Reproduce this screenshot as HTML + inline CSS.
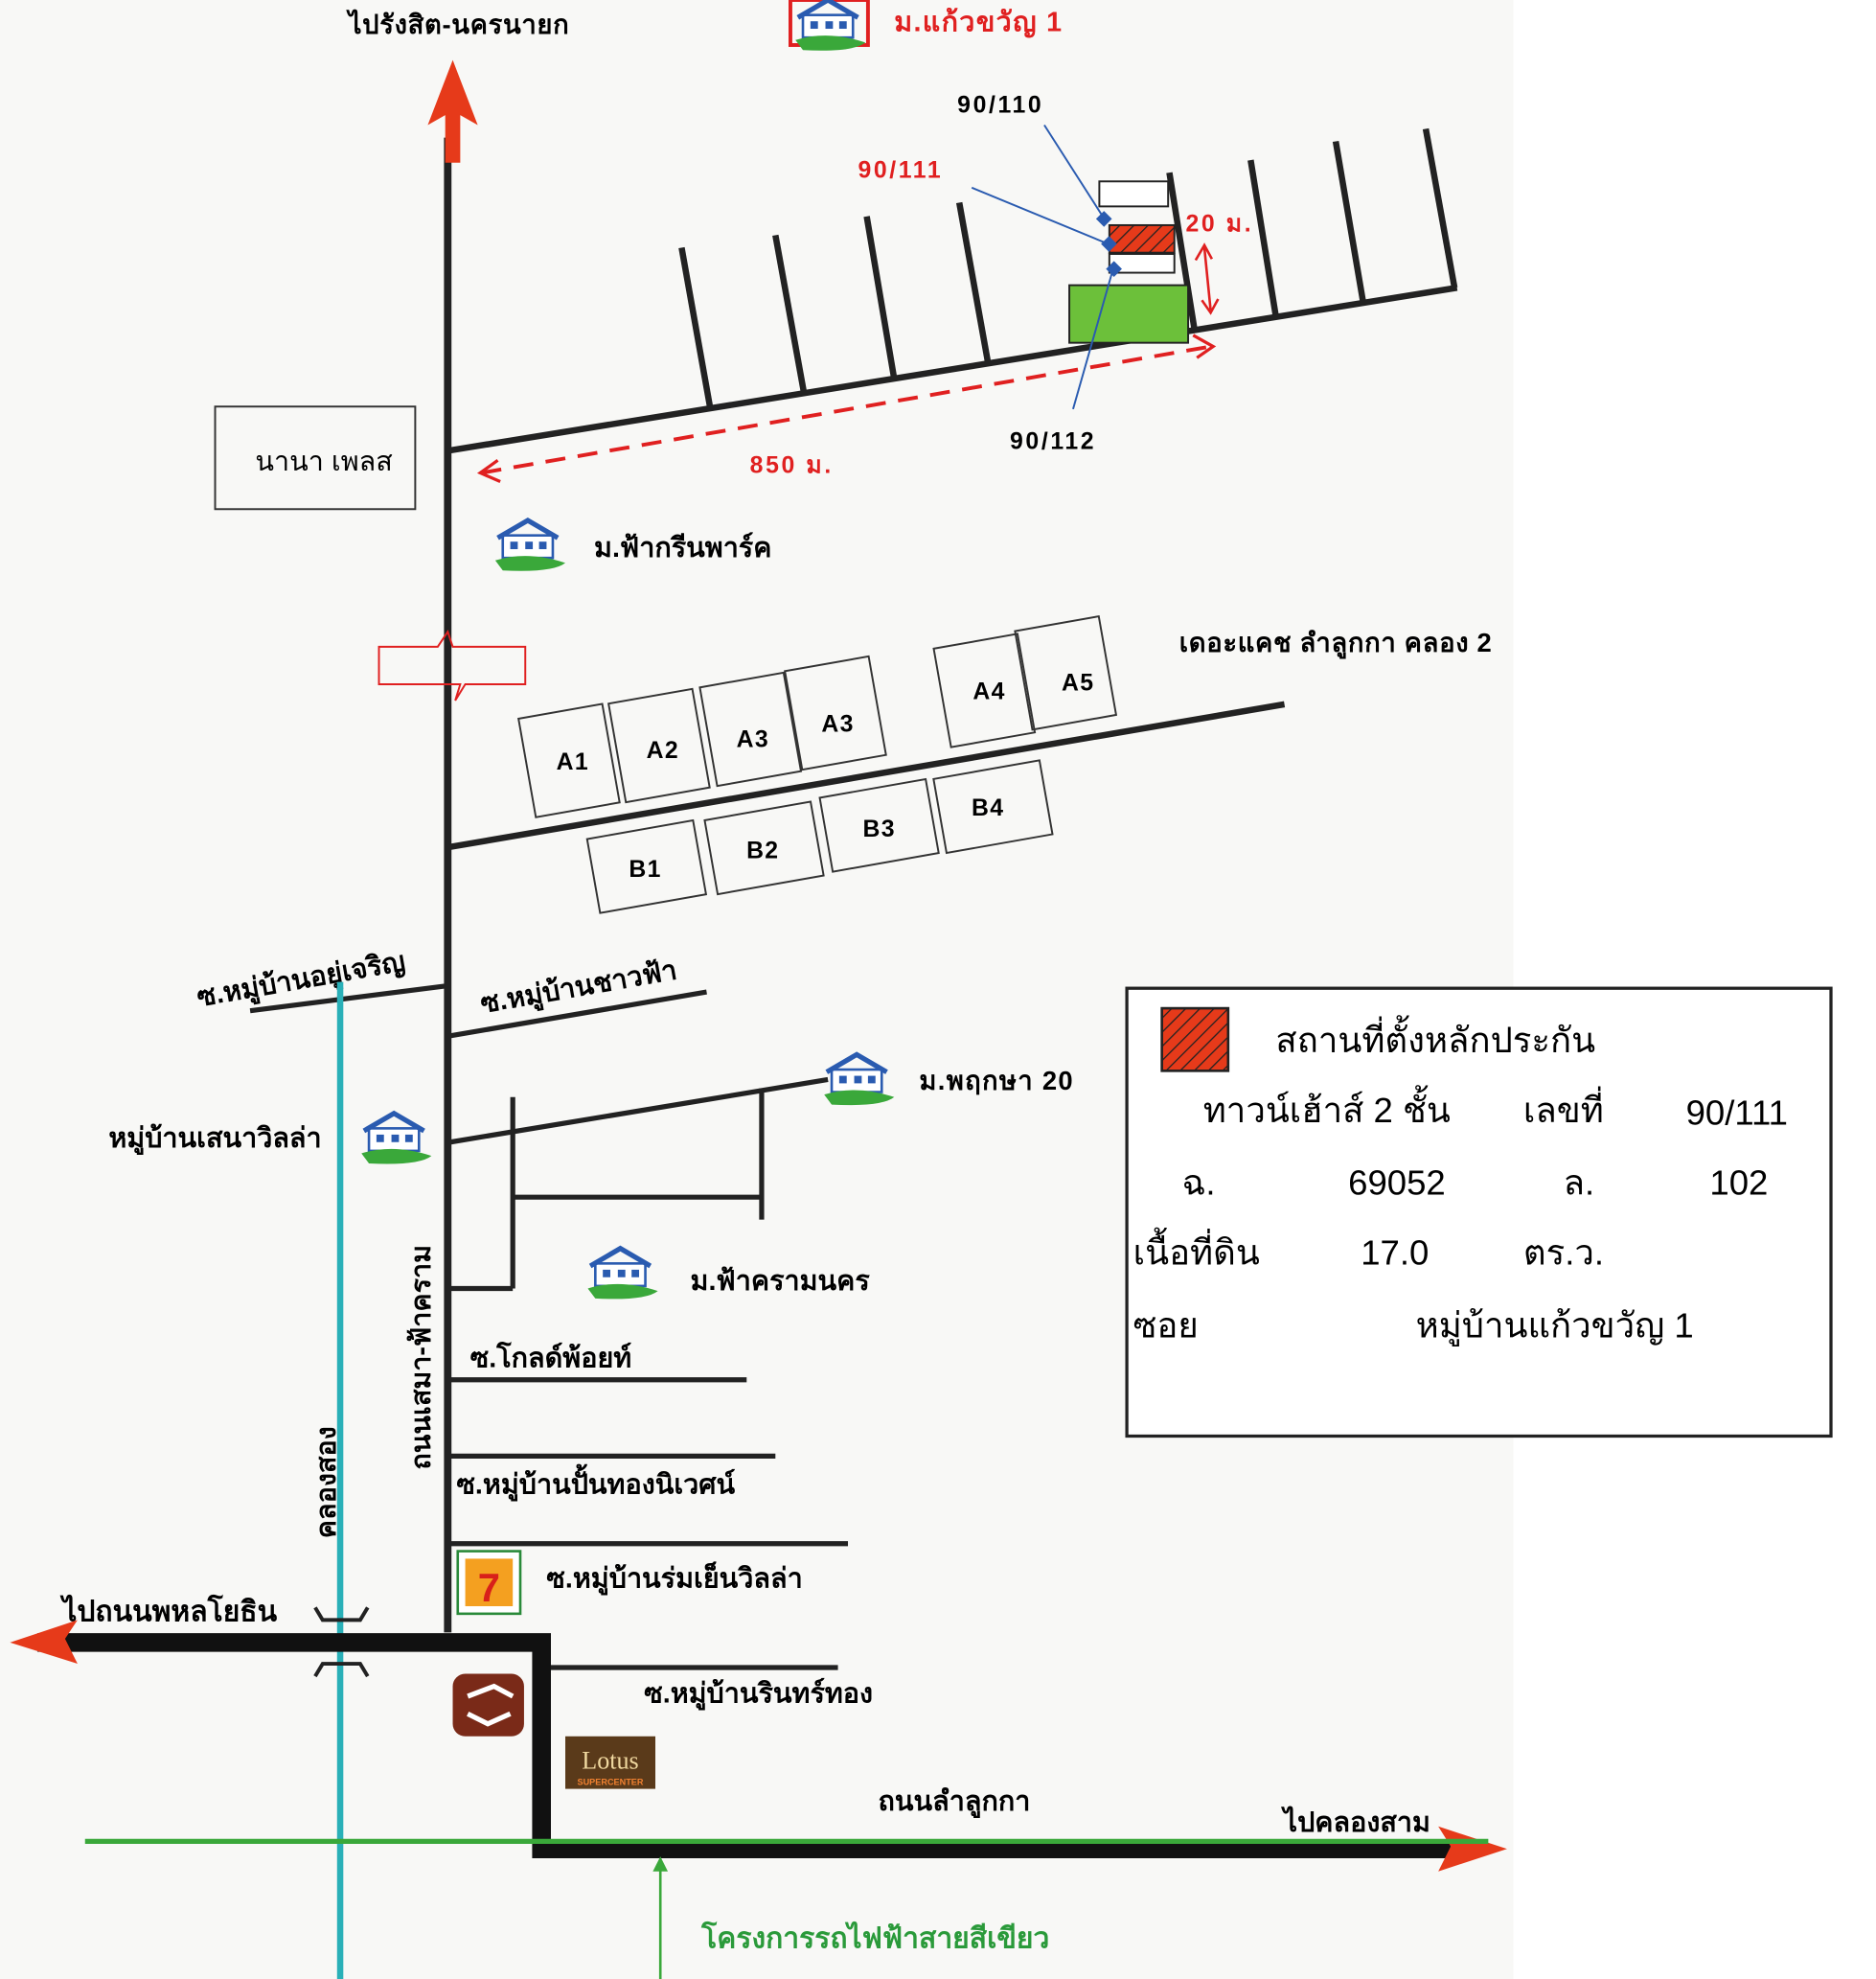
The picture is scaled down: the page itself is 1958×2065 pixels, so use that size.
<!DOCTYPE html>
<html><head><meta charset="utf-8"><style>
html,body{margin:0;padding:0;background:#fff;}
svg{display:block;}
text{font-family:"Liberation Sans","Noto Sans CJK SC","WenQuanYi Zen Hei",sans-serif;font-weight:bold;}
.n{font-weight:normal;}
</style></head><body>
<svg width="1958" height="2065" viewBox="0 0 1500 1582" preserveAspectRatio="none" xmlns="http://www.w3.org/2000/svg">
<defs>
<pattern id="h" width="8" height="8" patternUnits="userSpaceOnUse" patternTransform="rotate(45)"><rect width="8" height="8" fill="#e63a1a"/><line x1="0" y1="0" x2="0" y2="8" stroke="#222" stroke-width="2"/></pattern>
<g id="house"><rect x="0" y="10" width="40" height="18" fill="#fff" stroke="#2a5bb0" stroke-width="2"/><path d="M-4 12 L20 -2 L44 12" fill="none" stroke="#2a5bb0" stroke-width="4"/><rect x="6" y="15" width="6" height="6" fill="#2a5bb0"/><rect x="18" y="15" width="6" height="6" fill="#2a5bb0"/><rect x="29" y="15" width="6" height="6" fill="#2a5bb0"/><path d="M-6 30 Q20 22 50 32 Q40 40 0 38 Z" fill="#3aa83a"/></g>
</defs>
<rect x="0" y="0" width="1210" height="1582" fill="#f8f8f6"/>
<line x1="358" y1="110" x2="358" y2="1305" stroke="#222" stroke-width="6"/>
<path d="M362 48 L342 100 L356 92 L356 130 L368 130 L368 92 L382 100 Z" fill="#e63a1a"/>
<text x="367" y="27" font-size="21" text-anchor="middle" letter-spacing="0.5">ไปรังสิต-นครนายก</text>
<rect x="632" y="0" width="62" height="36" fill="none" stroke="#e02020" stroke-width="3"/>
<use href="#house" x="642" y="2"/>
<text x="715" y="25" font-size="22" fill="#e02020" letter-spacing="1">ม.แก้วขวัญ 1</text>
<line x1="360" y1="360" x2="1165" y2="230" stroke="#222" stroke-width="5"/>
<g stroke="#222" stroke-width="5">
<line x1="545" y1="198" x2="568" y2="327"/><line x1="620" y1="188" x2="643" y2="315"/><line x1="693" y1="173" x2="715" y2="303"/><line x1="767" y1="162" x2="790" y2="290"/><line x1="935" y1="138" x2="955" y2="263"/><line x1="1000" y1="128" x2="1020" y2="252"/><line x1="1068" y1="113" x2="1090" y2="242"/><line x1="1140" y1="103" x2="1163" y2="230"/>
</g>
<rect x="879" y="145" width="55" height="20" fill="#fff" stroke="#222" stroke-width="1.5"/>
<rect x="887" y="180" width="52" height="22" fill="url(#h)" stroke="#222" stroke-width="1.5"/>
<rect x="887" y="203" width="52" height="15" fill="#fff" stroke="#222" stroke-width="1.5"/>
<rect x="855" y="228" width="95" height="46" fill="#6cc03a" stroke="#222" stroke-width="1.5"/>
<g stroke="#2a5bb0" stroke-width="1.5"><line x1="835" y1="100" x2="883" y2="175"/><line x1="777" y1="150" x2="886" y2="195"/><line x1="858" y1="327" x2="890" y2="215"/></g>
<g fill="#2a5bb0"><rect x="878" y="170" width="9" height="9" transform="rotate(45 882 175)"/><rect x="882" y="190" width="9" height="9" transform="rotate(45 886 195)"/><rect x="886" y="210" width="9" height="9" transform="rotate(45 890 215)"/></g>
<g font-size="19" letter-spacing="2">
<text x="800" y="90" text-anchor="middle">90/110</text>
<text x="720" y="142" text-anchor="middle" fill="#e02020">90/111</text>
<text x="842" y="359" text-anchor="middle">90/112</text>
<text x="948" y="185" fill="#e02020">20 ม.</text>
<text x="633" y="378" text-anchor="middle" fill="#e02020">850 ม.</text>
</g>
<g stroke="#e02020" stroke-width="2" fill="none"><line x1="963" y1="198" x2="968" y2="248"/><path d="M956 208 L963 196 L969 207"/><path d="M961 240 L968 250 L974 239"/></g>
<line x1="385" y1="378" x2="968" y2="277" stroke="#e02020" stroke-width="3" stroke-dasharray="16,10"/>
<path d="M398 368 L384 378 L400 385" fill="none" stroke="#e02020" stroke-width="2.5"/>
<path d="M954 268 L970 277 L957 286" fill="none" stroke="#e02020" stroke-width="2.5"/>
<rect x="172" y="325" width="160" height="82" fill="none" stroke="#333" stroke-width="1.5"/>
<text x="259" y="376" font-size="22" text-anchor="middle" class="n">นานา เพลส</text>
<use href="#house" x="402" y="418"/>
<text x="475" y="445" font-size="22">ม.ฟ้ากรีนพาร์ค</text>
<path d="M303 517 L350 517 L358 505 L362 517 L420 517 L420 547 L372 547 L364 560 L368 547 L303 547 Z" fill="none" stroke="#e02020" stroke-width="1.5"/>
<line x1="360" y1="677" x2="1027" y2="563" stroke="#222" stroke-width="5"/>
<text x="1068" y="521" font-size="21" text-anchor="middle" letter-spacing="0.5">เดอะแคช ลำลูกกา คลอง 2</text>
<g fill="none" stroke="#333" stroke-width="1.5">
<g transform="rotate(-10 455 608)"><rect x="421" y="568" width="68" height="80"/></g>
<g transform="rotate(-10 527 596)"><rect x="493" y="556" width="68" height="80"/></g>
<g transform="rotate(-10 600 583)"><rect x="566" y="543" width="68" height="80"/></g>
<g transform="rotate(-10 668 570)"><rect x="634" y="530" width="68" height="80"/></g>
<g transform="rotate(-10 787 552)"><rect x="753" y="512" width="68" height="80"/></g>
<g transform="rotate(-10 852 538)"><rect x="818" y="498" width="68" height="80"/></g>
<g transform="rotate(-10 516 693)"><rect x="474" y="663" width="86" height="60"/></g>
<g transform="rotate(-10 610 678)"><rect x="568" y="648" width="86" height="60"/></g>
<g transform="rotate(-10 702 660)"><rect x="660" y="630" width="86" height="60"/></g>
<g transform="rotate(-10 793 645)"><rect x="751" y="615" width="86" height="60"/></g>
</g>
<g font-size="19" text-anchor="middle" letter-spacing="1">
<text x="458" y="615">A1</text><text x="530" y="606">A2</text><text x="602" y="597">A3</text><text x="670" y="585">A3</text><text x="791" y="559">A4</text><text x="862" y="552">A5</text>
<text x="516" y="701">B1</text><text x="610" y="686">B2</text><text x="703" y="669">B3</text><text x="790" y="652">B4</text>
</g>
<line x1="200" y1="808" x2="358" y2="788" stroke="#222" stroke-width="4"/>
<text x="242" y="790" font-size="22" text-anchor="middle" transform="rotate(-10 242 790)">ซ.หมู่บ้านอยู่เจริญ</text>
<line x1="360" y1="828" x2="565" y2="793" stroke="#222" stroke-width="4"/>
<text x="464" y="796" font-size="22" text-anchor="middle" transform="rotate(-10 464 796)">ซ.หมู่บ้านชาวฟ้า</text>
<line x1="360" y1="913" x2="662" y2="863" stroke="#222" stroke-width="4"/>
<g stroke="#222" stroke-width="4"><line x1="410" y1="877" x2="410" y2="1030"/><line x1="609" y1="870" x2="609" y2="975"/><line x1="410" y1="957" x2="609" y2="957"/><line x1="360" y1="1030" x2="410" y2="1030"/></g>
<use href="#house" x="665" y="845"/>
<text x="735" y="871" font-size="21" letter-spacing="1">ม.พฤกษา 20</text>
<use href="#house" x="295" y="892"/>
<text x="172" y="917" font-size="22" text-anchor="middle">หมู่บ้านเสนาวิลล่า</text>
<use href="#house" x="476" y="1000"/>
<text x="552" y="1031" font-size="22">ม.ฟ้าครามนคร</text>
<line x1="272" y1="785" x2="272" y2="1582" stroke="#2ab0b8" stroke-width="5"/>
<text x="268" y="1185" font-size="22" text-anchor="middle" transform="rotate(-90 268 1185)">คลองสอง</text>
<text x="344" y="1085" font-size="22" text-anchor="middle" transform="rotate(-90 344 1085)">ถนนเสมา-ฟ้าคราม</text>
<g stroke="#222" stroke-width="4"><line x1="360" y1="1103" x2="597" y2="1103"/><line x1="360" y1="1164" x2="620" y2="1164"/><line x1="360" y1="1234" x2="678" y2="1234"/><line x1="440" y1="1333" x2="670" y2="1333"/></g>
<text x="376" y="1093" font-size="22">ซ.โกลด์พ้อยท์</text>
<text x="365" y="1194" font-size="22">ซ.หมู่บ้านปั้นทองนิเวศน์</text>
<text x="437" y="1269" font-size="22">ซ.หมู่บ้านร่มเย็นวิลล่า</text>
<text x="515" y="1361" font-size="22">ซ.หมู่บ้านรินทร์ทอง</text>
<rect x="366" y="1240" width="50" height="50" fill="#fff" stroke="#2a8a3a" stroke-width="2"/>
<rect x="372" y="1246" width="38" height="38" fill="#f4a020"/>
<text x="391" y="1280" font-size="32" fill="#d8201a" text-anchor="middle">7</text>
<rect x="362" y="1338" width="57" height="50" rx="10" fill="#7a2a18"/>
<path d="M374 1356 L395 1348 L410 1356 M374 1370 L390 1378 L408 1370" fill="none" stroke="#fff" stroke-width="4"/>
<rect x="452" y="1388" width="72" height="42" fill="#5a3a1a"/>
<text x="488" y="1414" font-size="20" fill="#f0d8a0" text-anchor="middle" class="n" style="font-family:'Liberation Serif',serif">Lotus</text>
<text x="488" y="1427" font-size="7" fill="#f08030" text-anchor="middle">SUPERCENTER</text>
<text x="50" y="1296" font-size="23">ไปถนนพหลโยธิน</text>
<path d="M30 1313 L433 1313 L433 1478 L1160 1478" fill="none" stroke="#111" stroke-width="15"/>
<path d="M8 1313 L62 1295 L52 1310 L62 1330 Z" fill="#e63a1a"/>
<path d="M1205 1478 L1150 1460 L1160 1476 L1150 1496 Z" fill="#e63a1a"/>
<g stroke="#222" stroke-width="3" fill="none"><path d="M252 1285 L258 1295 L288 1295 L294 1285"/><path d="M252 1340 L258 1330 L288 1330 L294 1340"/></g>
<line x1="68" y1="1472" x2="1190" y2="1472" stroke="#3aa83a" stroke-width="4"/>
<line x1="528" y1="1582" x2="528" y2="1488" stroke="#3aa83a" stroke-width="2"/>
<path d="M522 1496 L528 1484 L534 1496 Z" fill="#3aa83a"/>
<text x="763" y="1447" font-size="22" text-anchor="middle">ถนนลำลูกกา</text>
<text x="1085" y="1464" font-size="22" text-anchor="middle">ไปคลองสาม</text>
<text x="700" y="1557" font-size="23" fill="#2a9a3a" text-anchor="middle">โครงการรถไฟฟ้าสายสีเขียว</text>
<rect x="901" y="790" width="563" height="358" fill="#fff" stroke="#222" stroke-width="2.5"/>
<rect x="929" y="806" width="53" height="50" fill="url(#h)" stroke="#222" stroke-width="2"/>
<g font-size="28">
<text x="1020" y="841" class="n">สถานที่ตั้งหลักประกัน</text>
<text x="962" y="897" class="n">ทาวน์เฮ้าส์ 2 ชั้น</text>
<text x="1218" y="897" class="n">เลขที่</text>
<text x="1348" y="899" class="n">90/111</text>
<text x="945" y="955" class="n">ฉ.</text>
<text x="1078" y="955" class="n">69052</text>
<text x="1250" y="955" class="n">ล.</text>
<text x="1367" y="955" class="n">102</text>
<text x="906" y="1011" class="n">เนื้อที่ดิน</text>
<text x="1088" y="1011" class="n">17.0</text>
<text x="1218" y="1011" class="n">ตร.ว.</text>
<text x="906" y="1069" class="n">ซอย</text>
<text x="1132" y="1069" class="n">หมู่บ้านแก้วขวัญ 1</text>
</g>
</svg>
</body></html>
